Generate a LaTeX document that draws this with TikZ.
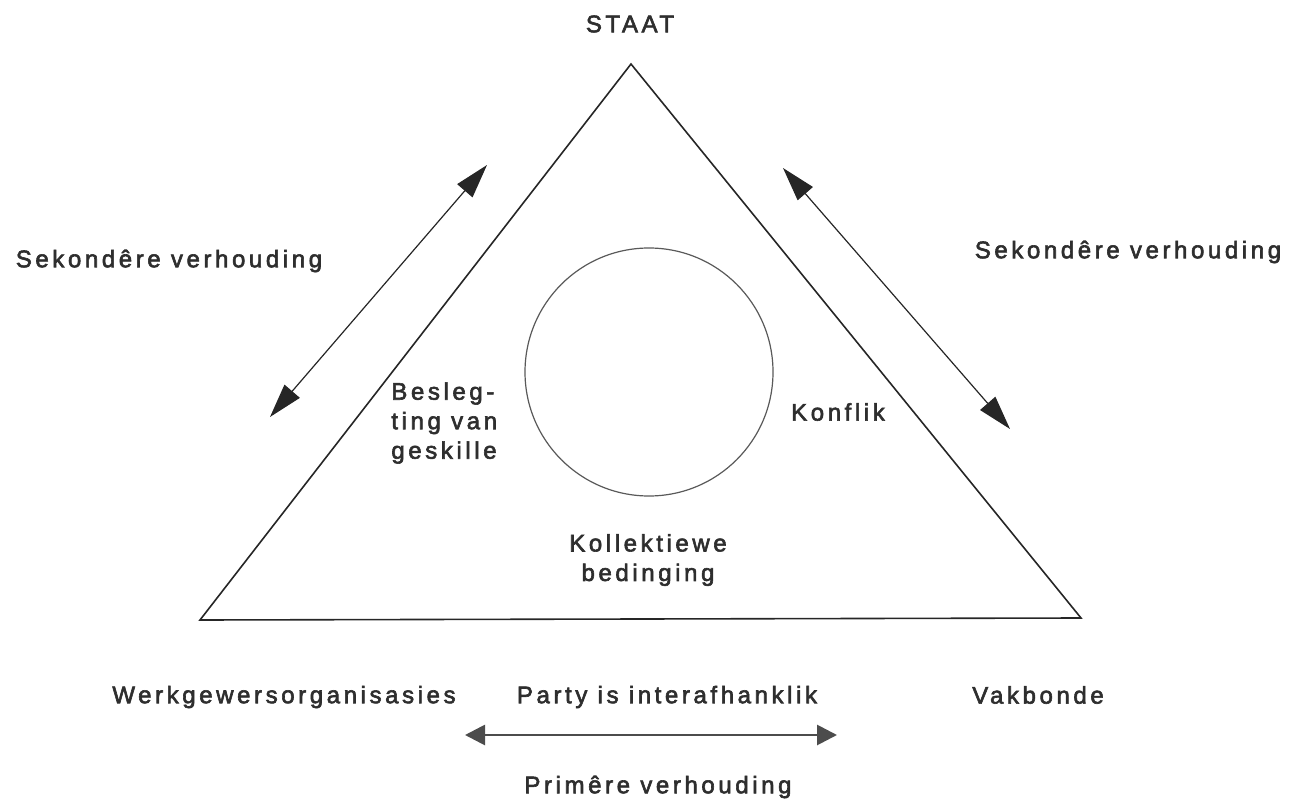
\documentclass[tikz,border=0pt]{standalone}
\usepackage{fontspec}
\setmainfont{Liberation Sans}[LetterSpace=15,FakeBold=2.5]
\usetikzlibrary{arrows.meta}
\definecolor{ink}{HTML}{2E2E2E}
\begin{document}
\begin{tikzpicture}[x=0.5pt,y=-0.5pt,
  lbl/.style={font=\fontsize{12}{14.75}\selectfont, inner sep=0pt, text=ink},
  rel/.style={draw=black!85, line width=0.6pt, {Triangle[length=17pt,width=10pt]}-{Triangle[length=17pt,width=10pt]}},
  prim/.style={draw=black!70, line width=1.4pt, {Triangle[length=10pt,width=10pt]}-{Triangle[length=10pt,width=10pt]}},
  edge/.style={draw=black!85, line width=0.8pt}]
\useasboundingbox (0,0) rectangle (1306,802);
\coordinate (A) at (631,64);
\coordinate (L) at (200,620);
\coordinate (R) at (1081,618);
\draw[edge] (A) -- (L) -- (R) -- cycle;
\node[circle, draw=black!65, line width=0.6pt, minimum size=124pt, inner sep=0pt] (c) at (649,372) {};
\coordinate (l1) at (270,417); \coordinate (l2) at (487,165);
\coordinate (r1) at (783,168); \coordinate (r2) at (1010,429);
\coordinate (b1) at (465,735); \coordinate (b2) at (837,735);
\draw[rel] (l1) -- (l2);
\draw[rel] (r1) -- (r2);
\draw[prim] (b1) -- (b2);
\node[lbl] (staat) at (630,24) {STAAT};
\node[lbl] (sl) at (169,261) {Sekondêre verhouding};
\node[lbl] (sr) at (1128,252) {Sekondêre verhouding};
\node[lbl, align=left, anchor=west] (bes) at (391,423) {Besleg-\\ting van\\geskille};
\node[lbl] (kon) at (838,412) {Konflik};
\node[lbl, align=center] (kol) at (648,560) {Kollektiewe\\bedinging};
\node[lbl] (werk) at (284,697) {Werkgewersorganisasies};
\node[lbl] (party) at (667,697) {Party is interafhanklik};
\node[lbl] (vak) at (1038,695) {Vakbonde};
\node[lbl] (prim) at (658,787) {Primêre verhouding};
\end{tikzpicture}
\end{document}
